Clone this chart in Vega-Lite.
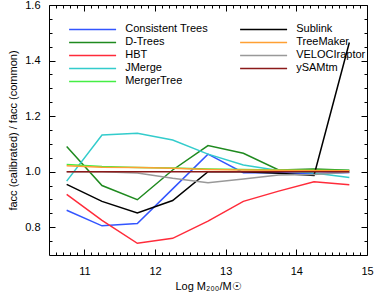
{
  "$schema": "https://vega.github.io/schema/vega-lite/v6.json",
  "width": 318,
  "height": 250,
  "autosize": "none",
  "padding": {"left": 49, "top": 5, "right": 7, "bottom": 44},
  "config": {
    "font": "Liberation Sans",
    "view": {"stroke": null},
    "axis": {"grid": false, "domainColor": "black", "tickColor": "black", "labelColor": "black", "titleColor": "black", "labelFontSize": 11, "titleFontSize": 11, "titleFontWeight": "normal", "labelFont": "Liberation Sans", "titleFont": "Liberation Sans"}
  },
  "data": {
    "values": [
      {"s": "Consistent Trees", "x": 10.75, "v": 0.861},
      {"s": "Consistent Trees", "x": 11.25, "v": 0.805},
      {"s": "Consistent Trees", "x": 11.75, "v": 0.813},
      {"s": "Consistent Trees", "x": 12.25, "v": 0.938},
      {"s": "Consistent Trees", "x": 12.75, "v": 1.063},
      {"s": "Consistent Trees", "x": 13.25, "v": 0.996},
      {"s": "Consistent Trees", "x": 13.75, "v": 0.996},
      {"s": "Consistent Trees", "x": 14.25, "v": 0.993},
      {"s": "Consistent Trees", "x": 14.75, "v": 0.997},
      {"s": "D-Trees", "x": 10.75, "v": 1.091},
      {"s": "D-Trees", "x": 11.25, "v": 0.95},
      {"s": "D-Trees", "x": 11.75, "v": 0.899},
      {"s": "D-Trees", "x": 12.25, "v": 1.006},
      {"s": "D-Trees", "x": 12.75, "v": 1.094},
      {"s": "D-Trees", "x": 13.25, "v": 1.066},
      {"s": "D-Trees", "x": 13.75, "v": 1.006},
      {"s": "D-Trees", "x": 14.25, "v": 1.01},
      {"s": "D-Trees", "x": 14.75, "v": 1.005},
      {"s": "HBT", "x": 10.75, "v": 0.918},
      {"s": "HBT", "x": 11.25, "v": 0.825},
      {"s": "HBT", "x": 11.75, "v": 0.742},
      {"s": "HBT", "x": 12.25, "v": 0.76},
      {"s": "HBT", "x": 12.75, "v": 0.822},
      {"s": "HBT", "x": 13.25, "v": 0.893},
      {"s": "HBT", "x": 13.75, "v": 0.93},
      {"s": "HBT", "x": 14.25, "v": 0.964},
      {"s": "HBT", "x": 14.75, "v": 0.953},
      {"s": "JMerge", "x": 10.75, "v": 0.966},
      {"s": "JMerge", "x": 11.25, "v": 1.132},
      {"s": "JMerge", "x": 11.75, "v": 1.138},
      {"s": "JMerge", "x": 12.25, "v": 1.114},
      {"s": "JMerge", "x": 12.75, "v": 1.063},
      {"s": "JMerge", "x": 13.25, "v": 1.024},
      {"s": "JMerge", "x": 13.75, "v": 1.004},
      {"s": "JMerge", "x": 14.25, "v": 0.995},
      {"s": "JMerge", "x": 14.75, "v": 0.979},
      {"s": "MergerTree", "x": 10.75, "v": 1.026},
      {"s": "MergerTree", "x": 11.25, "v": 1.019},
      {"s": "MergerTree", "x": 11.75, "v": 1.015},
      {"s": "MergerTree", "x": 12.25, "v": 1.013},
      {"s": "MergerTree", "x": 12.75, "v": 1.01},
      {"s": "MergerTree", "x": 13.25, "v": 1.008},
      {"s": "MergerTree", "x": 13.75, "v": 1.006},
      {"s": "MergerTree", "x": 14.25, "v": 1.005},
      {"s": "MergerTree", "x": 14.75, "v": 1.004},
      {"s": "Sublink", "x": 10.75, "v": 0.954},
      {"s": "Sublink", "x": 11.25, "v": 0.893},
      {"s": "Sublink", "x": 11.75, "v": 0.851},
      {"s": "Sublink", "x": 12.25, "v": 0.896},
      {"s": "Sublink", "x": 12.75, "v": 1.0},
      {"s": "Sublink", "x": 13.25, "v": 1.0},
      {"s": "Sublink", "x": 13.75, "v": 0.994},
      {"s": "Sublink", "x": 14.25, "v": 0.986},
      {"s": "Sublink", "x": 14.75, "v": 1.465},
      {"s": "TreeMaker", "x": 10.75, "v": 1.021},
      {"s": "TreeMaker", "x": 11.25, "v": 1.016},
      {"s": "TreeMaker", "x": 11.75, "v": 1.015},
      {"s": "TreeMaker", "x": 12.25, "v": 1.012},
      {"s": "TreeMaker", "x": 12.75, "v": 1.008},
      {"s": "TreeMaker", "x": 13.25, "v": 1.006},
      {"s": "TreeMaker", "x": 13.75, "v": 1.005},
      {"s": "TreeMaker", "x": 14.25, "v": 1.004},
      {"s": "TreeMaker", "x": 14.75, "v": 1.003},
      {"s": "VELOCIraptor", "x": 10.75, "v": 1.0},
      {"s": "VELOCIraptor", "x": 11.25, "v": 1.0},
      {"s": "VELOCIraptor", "x": 11.75, "v": 0.995},
      {"s": "VELOCIraptor", "x": 12.25, "v": 0.976},
      {"s": "VELOCIraptor", "x": 12.75, "v": 0.96},
      {"s": "VELOCIraptor", "x": 13.25, "v": 0.974},
      {"s": "VELOCIraptor", "x": 13.75, "v": 0.988},
      {"s": "VELOCIraptor", "x": 14.25, "v": 0.99},
      {"s": "VELOCIraptor", "x": 14.75, "v": 0.998},
      {"s": "ySAMtm", "x": 10.75, "v": 1.0},
      {"s": "ySAMtm", "x": 11.25, "v": 1.0},
      {"s": "ySAMtm", "x": 11.75, "v": 1.0},
      {"s": "ySAMtm", "x": 12.25, "v": 1.0},
      {"s": "ySAMtm", "x": 12.75, "v": 1.0},
      {"s": "ySAMtm", "x": 13.25, "v": 1.0},
      {"s": "ySAMtm", "x": 13.75, "v": 1.0},
      {"s": "ySAMtm", "x": 14.25, "v": 1.0},
      {"s": "ySAMtm", "x": 14.75, "v": 1.0}
    ]
  },
  "layer": [
    {
      "mark": {"type": "line", "strokeWidth": 1.5},
      "encoding": {
        "x": {"field": "x", "type": "quantitative", "scale": {"domain": [10.5, 15], "nice": false, "zero": false},
          "axis": {"orient": "bottom", "values": [11, 12, 13, 14, 15], "format": "d", "tickSize": -6, "labelPadding": 16, "title": "Log M₂₀₀/M☉", "titlePadding": 4, "labelFlush": false}},
        "y": {"field": "v", "type": "quantitative", "scale": {"domain": [0.7, 1.6], "nice": false, "zero": false},
          "axis": {"orient": "left", "values": [0.8, 1.0, 1.2, 1.4, 1.6], "format": ".1f", "tickSize": -6, "labelPadding": 15, "title": "facc (calibrated) / facc (common)", "titlePadding": 6, "labelFlush": false}},
        "color": {"field": "s", "type": "nominal",
          "scale": {
            "domain": ["Consistent Trees", "D-Trees", "HBT", "JMerge", "MergerTree", "Sublink", "TreeMaker", "VELOCIraptor", "ySAMtm"],
            "range": ["#3355ff", "#1f8a1f", "#ff2b3a", "#33cccc", "#44ee44", "#000000", "#ffa033", "#999999", "#8b1a1a"]
          },
          "legend": {"title": null, "orient": "none", "legendX": 36.6, "legendY": 17.4, "columns": 2, "columnPadding": 28, "rowPadding": 1, "symbolType": "M-4,0L4,0", "symbolSize": 138, "symbolStrokeWidth": 1.5, "labelFontSize": 11, "labelColor": "black", "labelOffset": 25.6, "padding": 0, "labelLimit": 200}
        }
      }
    },
    {
      "mark": {"type": "line", "opacity": 0},
      "encoding": {
        "x": {"field": "x", "type": "quantitative", "axis": {"orient": "top", "values": [11, 12, 13, 14, 15], "labels": false, "tickSize": -6, "title": null}},
        "y": {"field": "v", "type": "quantitative", "axis": {"orient": "right", "values": [0.8, 1.0, 1.2, 1.4, 1.6], "labels": false, "tickSize": -6, "title": null}},
        "detail": {"field": "s"}
      }
    },
    {
      "mark": {"type": "line", "opacity": 0},
      "encoding": {
        "x": {"field": "x", "type": "quantitative", "axis": {"orient": "bottom", "values": [10.6, 10.7, 10.8, 10.9, 11.1, 11.2, 11.3, 11.4, 11.5, 11.6, 11.7, 11.8, 11.9, 12.1, 12.2, 12.3, 12.4, 12.5, 12.6, 12.7, 12.8, 12.9, 13.1, 13.2, 13.3, 13.4, 13.5, 13.6, 13.7, 13.8, 13.9, 14.1, 14.2, 14.3, 14.4, 14.5, 14.6, 14.7, 14.8, 14.9], "labels": false, "domain": false, "tickSize": -3, "title": null}},
        "y": {"field": "v", "type": "quantitative", "axis": {"orient": "left", "values": [0.75, 0.85, 0.9, 0.95, 1.05, 1.1, 1.15, 1.25, 1.3, 1.35, 1.45, 1.5, 1.55], "labels": false, "domain": false, "tickSize": -3, "title": null}},
        "detail": {"field": "s"}
      }
    },
    {
      "mark": {"type": "line", "opacity": 0},
      "encoding": {
        "x": {"field": "x", "type": "quantitative", "axis": {"orient": "top", "values": [10.6, 10.7, 10.8, 10.9, 11.1, 11.2, 11.3, 11.4, 11.5, 11.6, 11.7, 11.8, 11.9, 12.1, 12.2, 12.3, 12.4, 12.5, 12.6, 12.7, 12.8, 12.9, 13.1, 13.2, 13.3, 13.4, 13.5, 13.6, 13.7, 13.8, 13.9, 14.1, 14.2, 14.3, 14.4, 14.5, 14.6, 14.7, 14.8, 14.9], "labels": false, "domain": false, "tickSize": -3, "title": null}},
        "y": {"field": "v", "type": "quantitative", "axis": {"orient": "right", "values": [0.75, 0.85, 0.9, 0.95, 1.05, 1.1, 1.15, 1.25, 1.3, 1.35, 1.45, 1.5, 1.55], "labels": false, "domain": false, "tickSize": -3, "title": null}},
        "detail": {"field": "s"}
      }
    }
  ],
  "resolve": {"axis": {"x": "independent", "y": "independent"}}
}
